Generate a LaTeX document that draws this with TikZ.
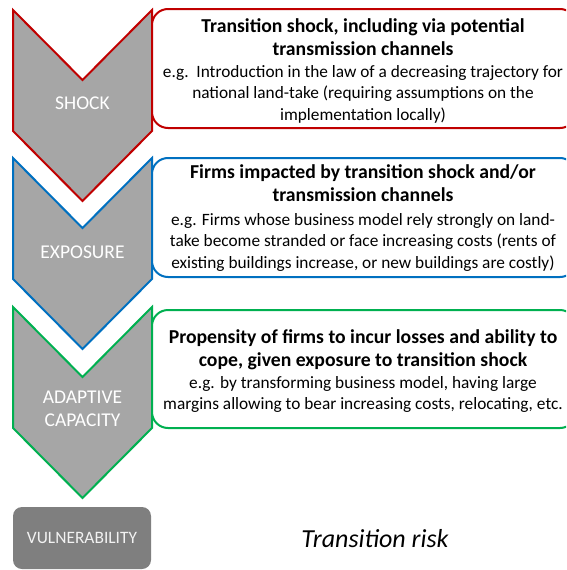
\documentclass[tikz,border=0pt]{standalone}
\usepackage{fontspec}
\setmainfont{Carlito}
\definecolor{cred}{HTML}{C00000}
\definecolor{cblue}{HTML}{0070C0}
\definecolor{cgreen}{HTML}{00B050}
\definecolor{chev}{HTML}{A6A6A6}
\definecolor{vuln}{HTML}{7F7F7F}
\tikzset{
  chevshape/.style={fill=chev, line width=2pt, line join=miter},
  infobox/.style={fill=white, line width=2pt, rounded corners=16pt},
  titletext/.style={inner sep=0pt, anchor=north, align=center, font=\fontsize{19.7}{23.5}\selectfont\bfseries},
  bodytext/.style={inner sep=0pt, anchor=north, align=center, font=\fontsize{17.3}{21.5}\selectfont},
  chevlabel/.style={inner sep=0pt, text=white, align=center, font=\fontsize{19.5}{23}\selectfont},
}
\begin{document}
\begin{tikzpicture}[x=1pt,y=-1pt]
\useasboundingbox (0,0) rectangle (566,570);
\clip (0,0) rectangle (566,570);
% chevrons
\foreach \yt/\col in {10/cred,158/cblue,307/cgreen}{
  \draw[chevshape, draw=\col] (13,\yt) -- (82.5,\yt+70) -- (152,\yt) -- (152,\yt+121) -- (82.5,\yt+191) -- (13,\yt+121) -- cycle;
}
% boxes
\draw[infobox, draw=cred] (152,9) rectangle (576,128);
\draw[infobox, draw=cblue] (152,158) rectangle (576,277);
\draw[infobox, draw=cgreen] (152,310) rectangle (576,428);
% chevron labels
\node[chevlabel] (shock) at (82.5,103) {SHOCK};
\node[chevlabel] (exposure) at (82.5,252) {EXPOSURE};
\node[chevlabel] (adaptive) at (82.5,409) {ADAPTIVE\\CAPACITY};
% vulnerability
\node[fill=vuln, rounded corners=9pt, minimum width=138pt, minimum height=62pt, inner sep=0pt, text=white!95!black, font=\fontsize{17.4}{20}\selectfont] (vul) at (82,538) {VULNERABILITY};
\node[font=\fontsize{26}{30}\selectfont\itshape, inner sep=0pt] (risk) at (375,539) {Transition risk};
% box texts
\node[titletext] (t1) at (363,18) {Transition shock, including via potential\\transmission channels};
\node[bodytext] (b1) at (363,65) {e.g.\ \ Introduction in the law of a decreasing trajectory for\\national land-take (requiring assumptions on the\\implementation locally)};
\node[titletext] (t2) at (363,164) {Firms impacted by transition shock and/or\\transmission channels};
\node[bodytext] (b2) at (363,213) {e.g. Firms whose business model rely strongly on land-\\take become stranded or face increasing costs (rents of\\existing buildings increase, or new buildings are costly)};
\node[titletext] (t3) at (363,329) {Propensity of firms to incur losses and ability to\\cope, given exposure to transition shock};
\node[bodytext] (b3) at (363,376) {e.g. by transforming business model, having large\\margins allowing to bear increasing costs, relocating, etc.};
\end{tikzpicture}
\end{document}
